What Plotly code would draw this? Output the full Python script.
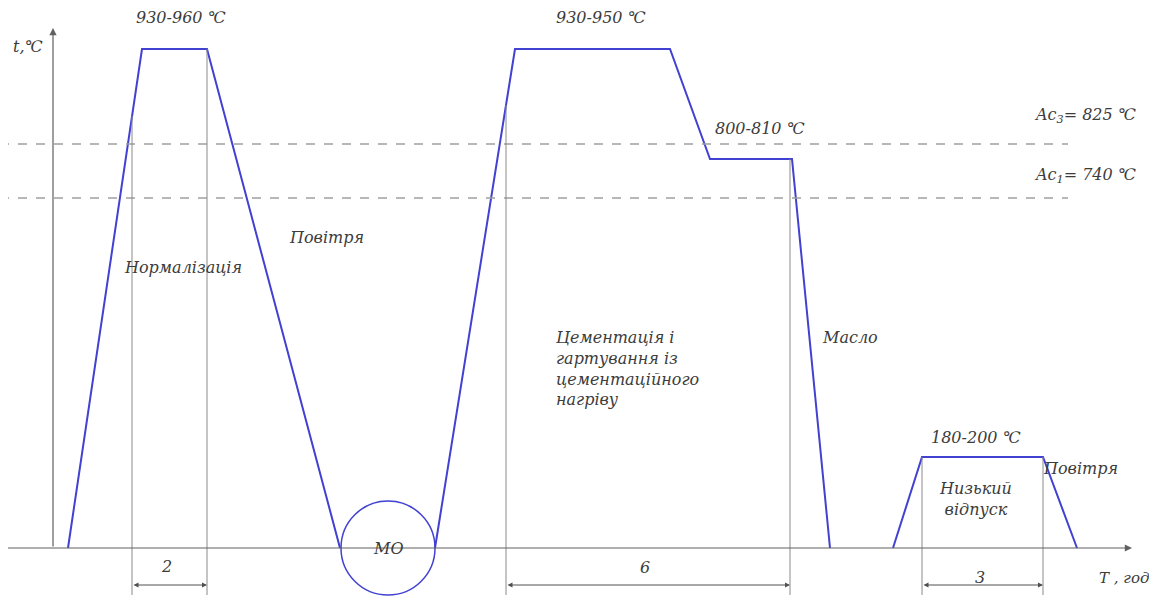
import plotly.graph_objects as go

# Schematic coordinates (time axis -> x, temperature axis -> y)
norm_x = [68, 142, 207, 340]
norm_y = [51, 550, 550, 51]
carb_x = [435, 515, 670, 710, 792, 830]
carb_y = [51, 550, 550, 440, 440, 51]
temper_x = [893, 922, 1043, 1077]
temper_y = [51, 142, 142, 51]

ac_levels = [455, 401]
ac_label_y = [484, 424]
ac_labels = ["<i>Ac<sub>3</sub>= 825 ℃</i>", "<i>Ac<sub>1</sub>= 740 ℃</i>"]

guide_x = [132, 207, 506, 790, 922, 1043]
guide_top = [483, 550, 494, 440, 142, 142]

dims = [(132, 207, "2"), (506, 790, "6"), (922, 1043, "3")]
dim_label_y = [33, 32, 22]

BLUE = "#4141d2"
GRAY = "#8a8a8a"
TXT = "#3c3c3c"
FONT = "DejaVu Serif"
FS = 16

fig = go.Figure()
for xs, ys in [(norm_x, norm_y), (carb_x, carb_y), (temper_x, temper_y)]:
    fig.add_trace(go.Scatter(x=xs, y=ys, mode="lines",
                             line=dict(color=BLUE, width=2), hoverinfo="skip"))

shapes = []
for lv in ac_levels:
    shapes.append(dict(type="line", x0=0, x1=1068, y0=lv, y1=lv,
                       line=dict(color="#a0a0a0", width=1.5, dash="dash")))
for gx, gt in zip(guide_x, guide_top):
    shapes.append(dict(type="line", x0=gx, x1=gx, y0=4, y1=gt,
                       line=dict(color=GRAY, width=1)))
shapes.append(dict(type="circle", x0=341, x1=435, y0=4, y1=98,
                   line=dict(color=BLUE, width=1.5)))

ann = []
# axes with arrows
ann.append(dict(x=1132, y=51, ax=0, ay=51, xref="x", yref="y", axref="x", ayref="y",
                showarrow=True, arrowhead=2, arrowsize=1.2, arrowwidth=1.2,
                arrowcolor="#606060", text=""))
ann.append(dict(x=53, y=571, ax=53, ay=51, xref="x", yref="y", axref="x", ayref="y",
                showarrow=True, arrowhead=2, arrowsize=1.2, arrowwidth=1.2,
                arrowcolor="#606060", text=""))
# dimension lines
for (a, b, lab), ly in zip(dims, dim_label_y):
    ann.append(dict(x=b, y=14, ax=a, ay=14, xref="x", yref="y", axref="x", ayref="y",
                    showarrow=True, arrowhead=2, startarrowhead=2, arrowside="end+start",
                    arrowsize=1, arrowwidth=1, arrowcolor="#505050", text=""))
    ann.append(dict(x=(a + b) / 2 - 3, y=ly, text=f"<i>{lab}</i>", showarrow=False,
                    font=dict(family=FONT, size=16, color=TXT)))


def label(x, y, t, size=FS, align="center", xanchor="center"):
    ann.append(dict(x=x, y=y, text=t, showarrow=False, align=align, xanchor=xanchor,
                    font=dict(family=FONT, size=size, color=TXT)))


label(28, 553, "<i>t,℃</i>")
label(181, 582, "<i>930-960 ℃</i>")
label(601, 582, "<i>930-950 ℃</i>")
label(760, 471, "<i>800-810 ℃</i>")
for ly, t in zip(ac_label_y, ac_labels):
    label(1085, ly, t)
label(183, 332, "<i>Нормалізація</i>")
label(326, 362, "<i>Повітря</i>")
label(553, 231, "<i>Цементація і<br>гартування із<br>цементаційного<br>нагріву</i>",
      align="left", xanchor="left")
label(850, 262, "<i>Масло</i>")
label(976, 162, "<i>180-200 ℃</i>")
label(975, 100, "<i>Низький<br>відпуск</i>")
label(1080, 131, "<i>Повітря</i>")
label(388, 51, "<i>МО</i>")
label(1124, 21, "<i>T , год</i>", size=15)

# The page body has an 8 px margin; the plot area is offset to compensate.
fig.update_layout(
    width=1149, height=591,
    margin=dict(l=0, r=0, t=0, b=0),
    paper_bgcolor="white", plot_bgcolor="white",
    showlegend=False,
    font=dict(family=FONT),
    xaxis=dict(range=[8, 1157], visible=False, fixedrange=True),
    yaxis=dict(range=[0, 591], visible=False, fixedrange=True),
    shapes=shapes, annotations=ann,
)
fig.write_html("out.html")
